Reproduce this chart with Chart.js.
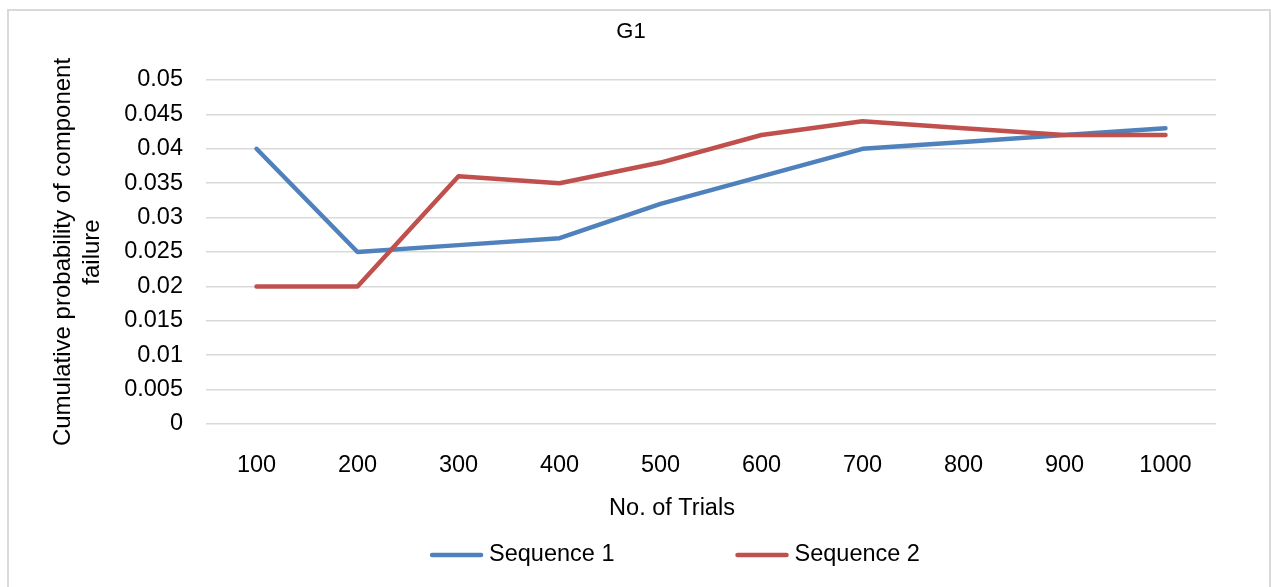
<!DOCTYPE html>
<html>
<head>
<meta charset="utf-8">
<script src="https://cdn.jsdelivr.net/npm/chart.js@4/dist/chart.umd.min.js"></script>
<style>
    html, body { margin: 0; padding: 0; background: #fff; }
    .wrap { position: relative; width: 1271px; height: 587px; }
    .frame { position: absolute; left: 7px; top: 9px; width: 1260px; height: 600px; border: 2px solid #d9d9d9; }
    canvas { position: absolute; left: 0; top: 0; }
</style>
</head>
<body>
<div class="wrap">
    <div class="frame"></div>
    <canvas id="g1Chart" width="1271" height="587"></canvas>
</div>
<script>
const trials = ["100", "200", "300", "400", "500", "600", "700", "800", "900", "1000"];
const sequence1 = [0.040, 0.025, 0.026, 0.027, 0.032, 0.036, 0.040, 0.041, 0.042, 0.043];
const sequence2 = [0.020, 0.020, 0.036, 0.035, 0.038, 0.042, 0.044, 0.043, 0.042, 0.042];
const yMin = 0, yMax = 0.05, yStep = 0.005;
const xTitle = "No. of Trials";
const yTitle = ["Cumulative probability of component", "failure"];

const FONT = '"Liberation Sans", Arial, sans-serif';

// x title and legend sit centred on the whole plot block (labels included), like Excel
const bottomBlock = {
    id: "bottomBlock",
    afterDraw(chart) {
        const ctx = chart.ctx;
        ctx.save();
        ctx.fillStyle = "#000";
        ctx.textBaseline = "middle";

        ctx.font = "23.5px " + FONT;
        ctx.textAlign = "center";
        ctx.fillText(xTitle, 672, 509);

        const lineLen = 53, textGap = 6, itemGap = 121, y = 555, centerX = 675;
        ctx.textAlign = "left";
        const items = chart.data.datasets.map(ds => ({
            label: ds.label,
            color: ds.borderColor,
            w: lineLen + textGap + ctx.measureText(ds.label).width
        }));
        const total = items.reduce((s, it) => s + it.w, 0) + itemGap * (items.length - 1);
        let x = centerX - total / 2;
        items.forEach(it => {
            ctx.strokeStyle = it.color;
            ctx.lineWidth = 4.5;
            ctx.lineCap = "round";
            ctx.beginPath();
            ctx.moveTo(x + 2, y);
            ctx.lineTo(x + lineLen - 2, y);
            ctx.stroke();
            ctx.fillText(it.label, x + lineLen + textGap, y);
            x += it.w + itemGap;
        });
        ctx.restore();
    }
};

const ctx = document.getElementById("g1Chart").getContext("2d");
const g1Chart = new Chart(ctx, {
    type: "line",
    data: {
        labels: trials,
        datasets: [
            {
                label: "Sequence 1",
                data: sequence1,
                borderColor: "#4F81BD",
                backgroundColor: "#4F81BD",
                borderWidth: 4.5,
                borderCapStyle: "round",
                borderJoinStyle: "round",
                pointRadius: 0,
                tension: 0,
                order: 1
            },
            {
                label: "Sequence 2",
                data: sequence2,
                borderColor: "#C0504D",
                backgroundColor: "#C0504D",
                borderWidth: 4.5,
                borderCapStyle: "round",
                borderJoinStyle: "round",
                pointRadius: 0,
                tension: 0,
                order: 0
            }
        ]
    },
    options: {
        responsive: false,
        animation: false,
        layout: { padding: { left: 46, right: 55, top: 0, bottom: 60 } },
        scales: {
            x: {
                offset: true,
                grid: { display: false },
                border: { display: false },
                ticks: { color: "#000", padding: 19, font: { family: FONT, size: 23.5 } },
                afterFit: (scale) => { scale.height = 103; }
            },
            y: {
                min: yMin,
                max: yMax,
                grid: { color: "#d9d9d9", lineWidth: 1.5, drawTicks: false },
                border: { display: false },
                ticks: {
                    stepSize: yStep,
                    color: "#000",
                    padding: 23,
                    font: { family: FONT, size: 23.5 },
                    callback: (v) => String(+v.toFixed(3))
                },
                title: {
                    display: true,
                    text: yTitle,
                    color: "#000",
                    font: { family: FONT, size: 24, lineHeight: 1.2 },
                    padding: { top: 3, bottom: 0 }
                },
                afterFit: (scale) => { scale.width = 160; }
            }
        },
        plugins: {
            legend: { display: false },
            tooltip: { enabled: false },
            title: {
                display: true,
                text: "G1",
                color: "#000",
                font: { family: FONT, size: 22, weight: "normal", lineHeight: 1.2 },
                padding: { top: 19, bottom: 34.6 }
            }
        }
    },
    plugins: [bottomBlock]
});
</script>
</body>
</html>
